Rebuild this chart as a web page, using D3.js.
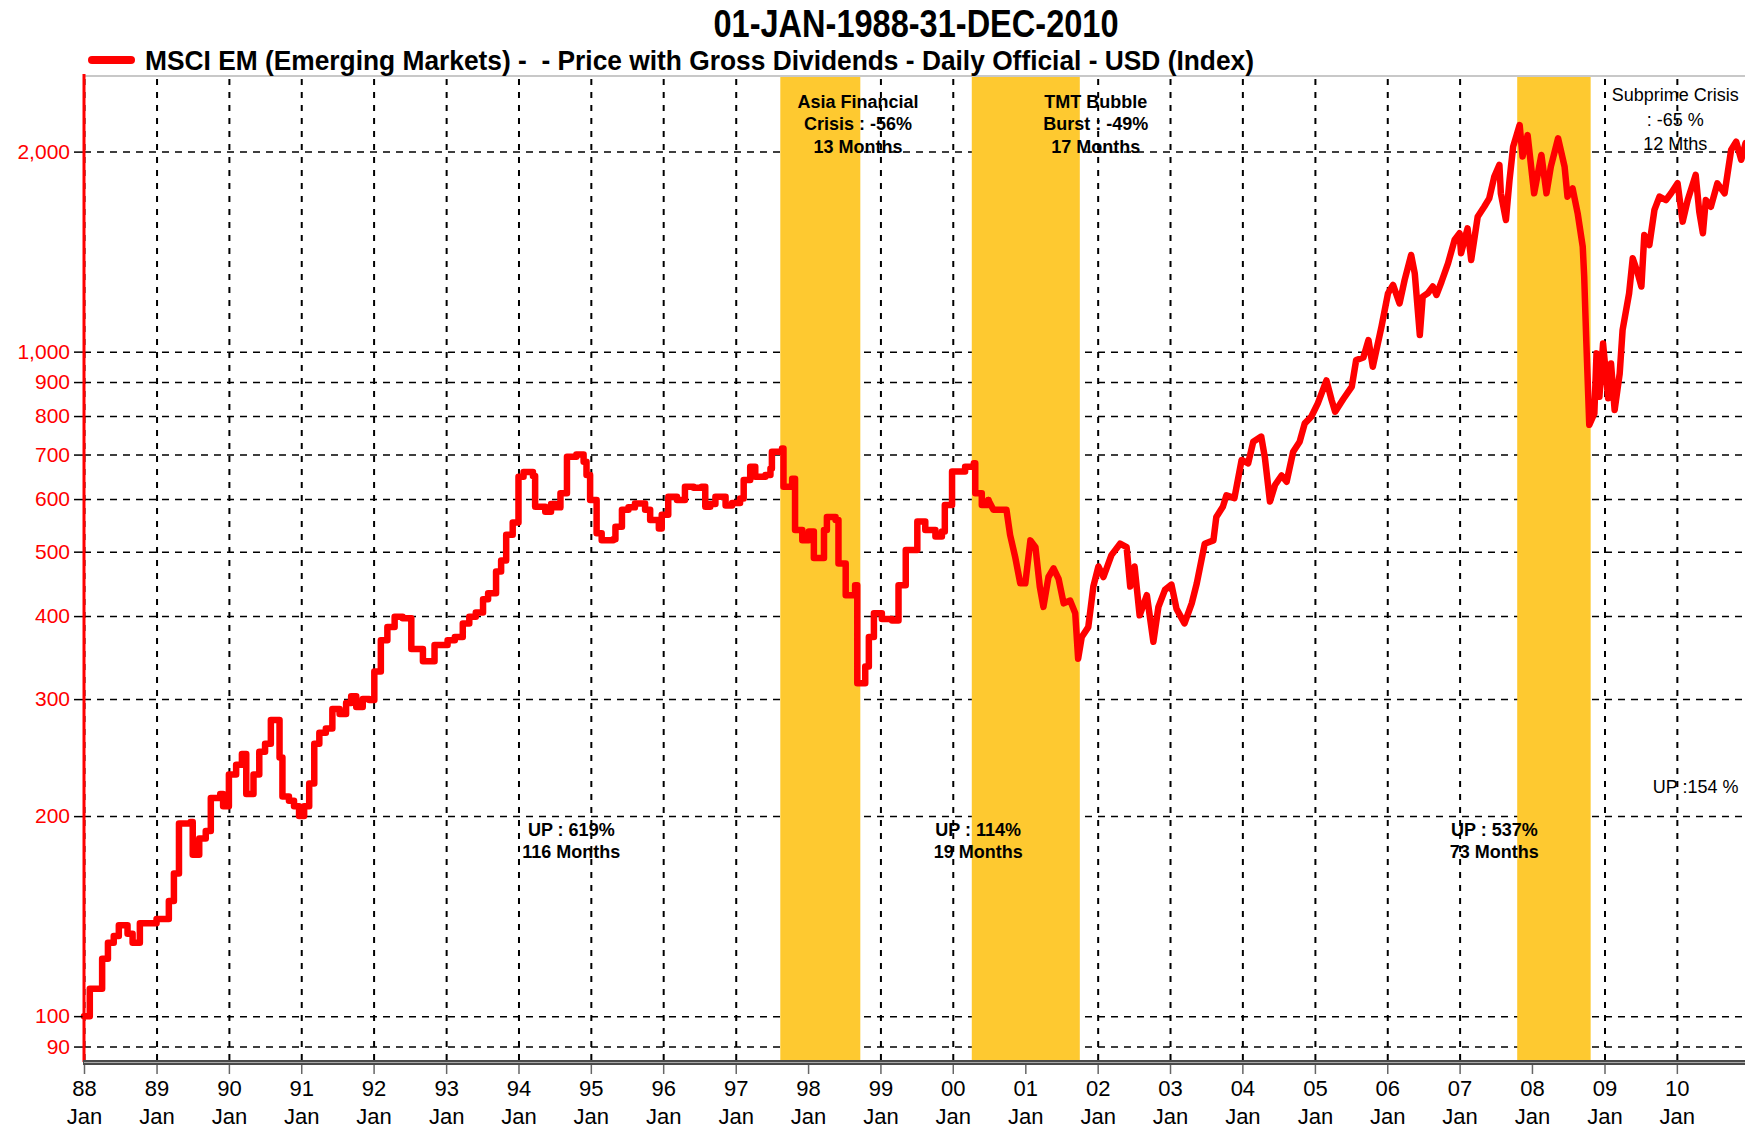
<!DOCTYPE html>
<meta charset="utf-8">
<head>
<style>
  body { margin: 0; background: #fff; }
  svg { display: block; }
  .ylab text { font: 21px "Liberation Sans", Arial, sans-serif; fill: #ff0000; }
  .ylab .domain { display: none; }
  .ylab line { stroke: #000; stroke-width: 1.5; }
  .xlab text { font: 22px "Liberation Sans", Arial, sans-serif; fill: #000; }
  .xlab .domain { display: none; }
  .xlab line { stroke: #666; stroke-width: 1.5; }
  .grid .domain { display: none; }
  .grid text { display: none; }
  .hgrid line { stroke: #000; stroke-width: 1.5; stroke-dasharray: 7,6; }
  .vgrid line { stroke: #000; stroke-width: 2; stroke-dasharray: 6,7; }
</style>
</head>
<body>
<script src="https://d3js.org/d3.v7.min.js"></script>
<script>

// index level (decimal year, value)
var pointYears = [
  1988.00, 1988.08, 1988.25, 1988.33, 1988.41, 1988.48, 1988.60, 1988.67, 1988.77,
  1989.00, 1989.17, 1989.24, 1989.31, 1989.47, 1989.50, 1989.59, 1989.68, 1989.75, 1989.88, 1989.92,
  1990.00, 1990.10, 1990.18, 1990.24, 1990.34, 1990.42, 1990.50, 1990.58, 1990.70, 1990.74, 1990.83, 1990.90, 1990.97,
  1991.04, 1991.11, 1991.18, 1991.25, 1991.34, 1991.43, 1991.53, 1991.62, 1991.69, 1991.76, 1991.85, 1991.94,
  1992.01, 1992.10, 1992.19, 1992.29, 1992.40, 1992.52, 1992.68, 1992.84,
  1993.02, 1993.12, 1993.23, 1993.32, 1993.41, 1993.51, 1993.58, 1993.69, 1993.76, 1993.83, 1993.92,
  1994.00, 1994.07, 1994.20, 1994.23, 1994.37, 1994.45, 1994.51, 1994.58, 1994.67, 1994.80, 1994.90, 1994.94, 1994.99,
  1995.08, 1995.15, 1995.31, 1995.34, 1995.43, 1995.52, 1995.61, 1995.75, 1995.82, 1995.94, 1995.98,
  1996.07, 1996.19, 1996.30, 1996.42, 1996.53, 1996.58, 1996.65, 1996.72, 1996.81, 1996.86, 1996.95,
  1997.06, 1997.11, 1997.20, 1997.27, 1997.41, 1997.48, 1997.50, 1997.64, 1997.66, 1997.78, 1997.82, 1997.92,
  1998.01, 1998.08, 1998.17, 1998.22, 1998.26, 1998.38, 1998.42, 1998.52, 1998.65, 1998.68, 1998.75, 1998.79, 1998.84, 1998.91,
  1999.02, 1999.16, 1999.25, 1999.35, 1999.48, 1999.51, 1999.62, 1999.76, 1999.85, 1999.89, 1999.99,
  2000.17, 2000.29, 2000.31, 2000.40, 2000.49, 2000.56, 2000.74, 2000.79, 2000.86, 2000.93,
  2001.00, 2001.07, 2001.14, 2001.20, 2001.25, 2001.32, 2001.39, 2001.46, 2001.53, 2001.62, 2001.69, 2001.73, 2001.78, 2001.87, 2001.94,
  2002.01, 2002.08, 2002.19, 2002.31, 2002.40, 2002.45, 2002.51, 2002.58, 2002.68, 2002.77, 2002.84, 2002.93,
  2003.02, 2003.09, 2003.20, 2003.30, 2003.37, 2003.48, 2003.60, 2003.64, 2003.73, 2003.78, 2003.89, 2003.99,
  2004.08, 2004.15, 2004.26, 2004.31, 2004.38, 2004.45, 2004.54, 2004.61, 2004.70, 2004.79, 2004.86, 2004.95,
  2005.04, 2005.16, 2005.23, 2005.28, 2005.39, 2005.51, 2005.57, 2005.67, 2005.74, 2005.80, 2005.92,
  2006.01, 2006.08, 2006.17, 2006.24, 2006.33, 2006.38, 2006.45, 2006.49, 2006.56, 2006.63, 2006.68, 2006.75, 2006.84, 2006.93,
  2007.00, 2007.02, 2007.11, 2007.16, 2007.25, 2007.34, 2007.41, 2007.48, 2007.55, 2007.57, 2007.64, 2007.69, 2007.74, 2007.83, 2007.87, 2007.94,
  2008.03, 2008.13, 2008.20, 2008.26, 2008.36, 2008.45, 2008.49, 2008.56, 2008.63, 2008.70, 2008.72, 2008.75, 2008.79, 2008.86, 2008.89, 2008.93, 2008.98,
  2009.05, 2009.09, 2009.14, 2009.21, 2009.25, 2009.34, 2009.39, 2009.46, 2009.51, 2009.55, 2009.62, 2009.69, 2009.76, 2009.85, 2009.92,
  2010.01, 2010.08, 2010.15, 2010.26, 2010.31, 2010.36, 2010.40, 2010.47, 2010.56, 2010.66, 2010.75, 2010.82, 2010.89, 2010.95, 2010.99
];
var pointValues = [
  100, 110, 122, 129, 132, 137, 133, 129, 138,
  140, 149, 164, 195, 196, 175, 185, 190, 213, 216, 207,
  231, 239, 248, 216, 231, 250, 257, 279, 245, 214, 211, 207, 200,
  207, 224, 257, 267, 271, 290, 285, 296, 303, 292, 300, 299,
  330, 368, 385, 399, 397, 357, 342, 362,
  368, 372, 390, 399, 405, 424, 433, 467, 485, 530, 553,
  648, 659, 650, 584, 574, 590, 583, 612, 695, 700, 683, 652, 598,
  533, 520, 522, 545, 578, 583, 591, 578, 558, 542, 568,
  605, 598, 626, 624, 626, 584, 590, 605, 605, 587, 592,
  601, 641, 671, 648, 652, 667, 707, 715, 626, 644, 539, 520,
  536, 489, 489, 539, 564, 558, 480, 430, 445, 317, 317, 336, 372, 404,
  396, 394, 445, 503, 503, 555, 539, 527, 536, 588, 660,
  671, 679, 612, 588, 598, 578, 578, 530, 491, 448,
  448, 520, 508, 443, 413, 458, 472, 455, 418, 422, 404, 345, 372, 385, 443,
  475, 458, 494, 514, 508, 443, 475, 401, 430, 366, 413, 438,
  446, 410, 390, 418, 448, 514, 520, 564, 584, 608, 602, 687,
  679, 732, 745, 693, 595, 630, 651, 637, 707, 732, 780, 798,
  836, 905, 846, 812, 848, 886, 971, 980, 1041, 949, 1090,
  1224, 1260, 1182, 1282, 1398, 1312, 1059, 1210, 1224, 1253, 1217, 1274, 1358, 1472,
  1507, 1406, 1533, 1374, 1596, 1652, 1701, 1834, 1910, 1731, 1578, 1813, 2035, 2193, 1966, 2118,
  1731, 1977, 1731, 1898, 2094, 1898, 1711, 1761, 1615, 1438, 1297, 1029, 776, 807, 994, 855, 1029,
  851, 960, 817, 927, 1078, 1224, 1382, 1312, 1253, 1498, 1447, 1634, 1711, 1691, 1731,
  1792, 1569, 1691, 1845, 1624, 1507, 1691, 1652, 1792, 1731, 2011, 2070, 1944, 2060, 2000
];
// before this the published series moves in steps
var stepUntil = 2000.5;

var yTicks = [90, 100, 200, 300, 400, 500, 600, 700, 800, 900, 1000, 2000];
var firstYear = 1988, lastYear = 2010;

// crisis periods (decimal years)
var crisisStart = [1997.616, 2000.262, 2007.796];
var crisisEnd   = [1998.722, 2001.753, 2008.809];
var crisisNotes = [
  ["Asia Financial", "Crisis : -56%", "13 Months"],
  ["TMT Bubble", "Burst : -49%", "17 Months"],
  ["Subprime Crisis", ": -65 %", "12 Mths"]
];
var crisisNoteYears = [1998.69, 2001.975, 2009.978];
var upNotes = [
  ["UP : 619%", "116 Months"],
  ["UP : 114%", "19 Months"],
  ["UP : 537%", "73 Months"],
  ["UP :154 %"]
];
var upNoteYears = [1994.73, 2000.35, 2007.48, 2010.26];

var titleText = "01-JAN-1988-31-DEC-2010";
var legendText = "MSCI EM (Emerging Markets) -  - Price with Gross Dividends - Daily Official - USD (Index)";

function toDate(t) {
  var yr = Math.floor(t);
  var a = new Date(yr, 0, 1), b = new Date(yr + 1, 0, 1);
  return new Date(+a + (t - yr) * (b - a));
}

var W = 1745, H = 1128;
var plotLeft = 84, plotTop = 76, plotBottom = 1060, plotRight = 1745;

var svg = d3.select("body").append("svg")
    .attr("width", W)
    .attr("height", H);

var x = d3.scaleTime()
    .domain([new Date(firstYear, 0, 1), new Date(lastYear + 1, 0, 1)])
    .range([plotLeft, plotLeft + (lastYear + 1 - firstYear) * 72.4]);

var y = d3.scaleLog()
    .domain([85.9, 2599])
    .range([plotBottom, plotTop]);

var yearTicks = d3.timeYear.range(new Date(firstYear, 0, 1), new Date(lastYear + 1, 0, 1));

// grid
svg.append("g")
    .attr("class", "grid hgrid")
    .attr("transform", "translate(" + plotLeft + ",0)")
    .call(d3.axisLeft(y).tickValues(yTicks).tickSize(-(plotRight - plotLeft)).tickFormat(""));

svg.append("g")
    .attr("class", "grid vgrid")
    .attr("transform", "translate(0," + plotBottom + ")")
    .call(d3.axisBottom(x).tickValues(yearTicks).tickSize(-(plotBottom - plotTop)).tickFormat(""));

// top border
svg.append("line")
    .attr("x1", plotLeft).attr("x2", plotRight)
    .attr("y1", plotTop).attr("y2", plotTop)
    .style("stroke", "#c8c8c8").style("stroke-width", 2);

// crisis bands
svg.selectAll("rect.band")
    .data(crisisStart)
  .enter().append("rect")
    .attr("class", "band")
    .attr("x", function(d) { return x(toDate(d)); })
    .attr("width", function(d, i) { return x(toDate(crisisEnd[i])) - x(toDate(d)); })
    .attr("y", plotTop + 1)
    .attr("height", plotBottom - plotTop - 1)
    .style("fill", "#fec930");

// index line
var points = pointYears.map(function(t, i) { return { date: toDate(t), value: pointValues[i] }; });
var cut = d3.bisectLeft(pointYears, stepUntil);

var stepLine = d3.line()
    .curve(d3.curveStepAfter)
    .x(function(d) { return x(d.date); })
    .y(function(d) { return y(d.value); });
var plainLine = d3.line()
    .x(function(d) { return x(d.date); })
    .y(function(d) { return y(d.value); });

svg.append("path")
    .datum(points.slice(0, cut))
    .attr("d", stepLine)
    .style("fill", "none").style("stroke", "#ff0000")
    .style("stroke-width", 6.5).style("stroke-linejoin", "round").style("stroke-linecap", "round");
svg.append("path")
    .datum(points.slice(cut - 1))
    .attr("d", plainLine)
    .style("fill", "none").style("stroke", "#ff0000")
    .style("stroke-width", 6.5).style("stroke-linejoin", "round").style("stroke-linecap", "round");

// y axis
svg.append("g")
    .attr("class", "ylab")
    .attr("transform", "translate(" + plotLeft + ",0)")
    .call(d3.axisLeft(y).tickValues(yTicks).tickSize(10).tickPadding(4).tickFormat(d3.format(",")));

svg.append("line")
    .attr("x1", plotLeft).attr("x2", plotLeft)
    .attr("y1", plotTop - 2).attr("y2", plotBottom + 2)
    .style("stroke", "#ff0000").style("stroke-width", 3);

// x axis (double grey base line)
svg.append("rect")
    .attr("x", plotLeft - 1).attr("y", plotBottom)
    .attr("width", plotRight - plotLeft + 1).attr("height", 5)
    .style("fill", "#4a4a4a");
svg.append("line")
    .attr("x1", plotLeft).attr("x2", plotRight)
    .attr("y1", plotBottom + 2.5).attr("y2", plotBottom + 2.5)
    .style("stroke", "#aaa").style("stroke-width", 1);

var xAxis = svg.append("g")
    .attr("class", "xlab")
    .attr("transform", "translate(0," + (plotBottom + 5) + ")")
    .call(d3.axisBottom(x).tickValues(yearTicks).tickSize(9).tickPadding(0).tickFormat(""));

var yearFmt = d3.timeFormat("%y");
xAxis.selectAll(".tick text").each(function(d) {
  var t = d3.select(this).attr("y", null).attr("dy", null);
  t.append("tspan").attr("x", 0).attr("y", 31).text(yearFmt(d));
  t.append("tspan").attr("x", 0).attr("y", 59).text("Jan");
});

// title and legend
svg.append("text")
    .attr("x", 916).attr("y", 37)
    .attr("text-anchor", "middle")
    .attr("textLength", 405).attr("lengthAdjust", "spacingAndGlyphs")
    .style("font", "bold 39px 'Liberation Sans Narrow', 'Liberation Sans', Arial, sans-serif")
    .text(titleText);

svg.append("line")
    .attr("x1", 92).attr("x2", 131)
    .attr("y1", 60).attr("y2", 60)
    .style("stroke", "#ff0000").style("stroke-width", 8).style("stroke-linecap", "round");

svg.append("text")
    .attr("x", 145).attr("y", 70)
    .attr("textLength", 1109).attr("lengthAdjust", "spacingAndGlyphs")
    .style("font", "bold 28px 'Liberation Sans Narrow', 'Liberation Sans', Arial, sans-serif")
    .style("white-space", "pre")
    .text(legendText);

// notes
crisisNotes.forEach(function(lines, i) {
  var bold = i < 2;
  var y0 = bold ? 108 : 101, step = bold ? 22.3 : 24.5;
  var t = svg.append("text")
      .attr("text-anchor", "middle")
      .style("font", (bold ? "bold " : "") + "18px 'Liberation Sans', Arial, sans-serif");
  lines.forEach(function(s, j) {
    t.append("tspan").attr("x", x(toDate(crisisNoteYears[i]))).attr("y", y0 + j * step).text(s);
  });
});

upNotes.forEach(function(lines, i) {
  var bold = lines.length > 1;
  var y0 = bold ? 836 : 793;
  var t = svg.append("text")
      .attr("text-anchor", "middle")
      .style("font", (bold ? "bold " : "") + "18px 'Liberation Sans', Arial, sans-serif");
  lines.forEach(function(s, j) {
    t.append("tspan").attr("x", x(toDate(upNoteYears[i]))).attr("y", y0 + j * 22).text(s);
  });
});

</script>
</body>
